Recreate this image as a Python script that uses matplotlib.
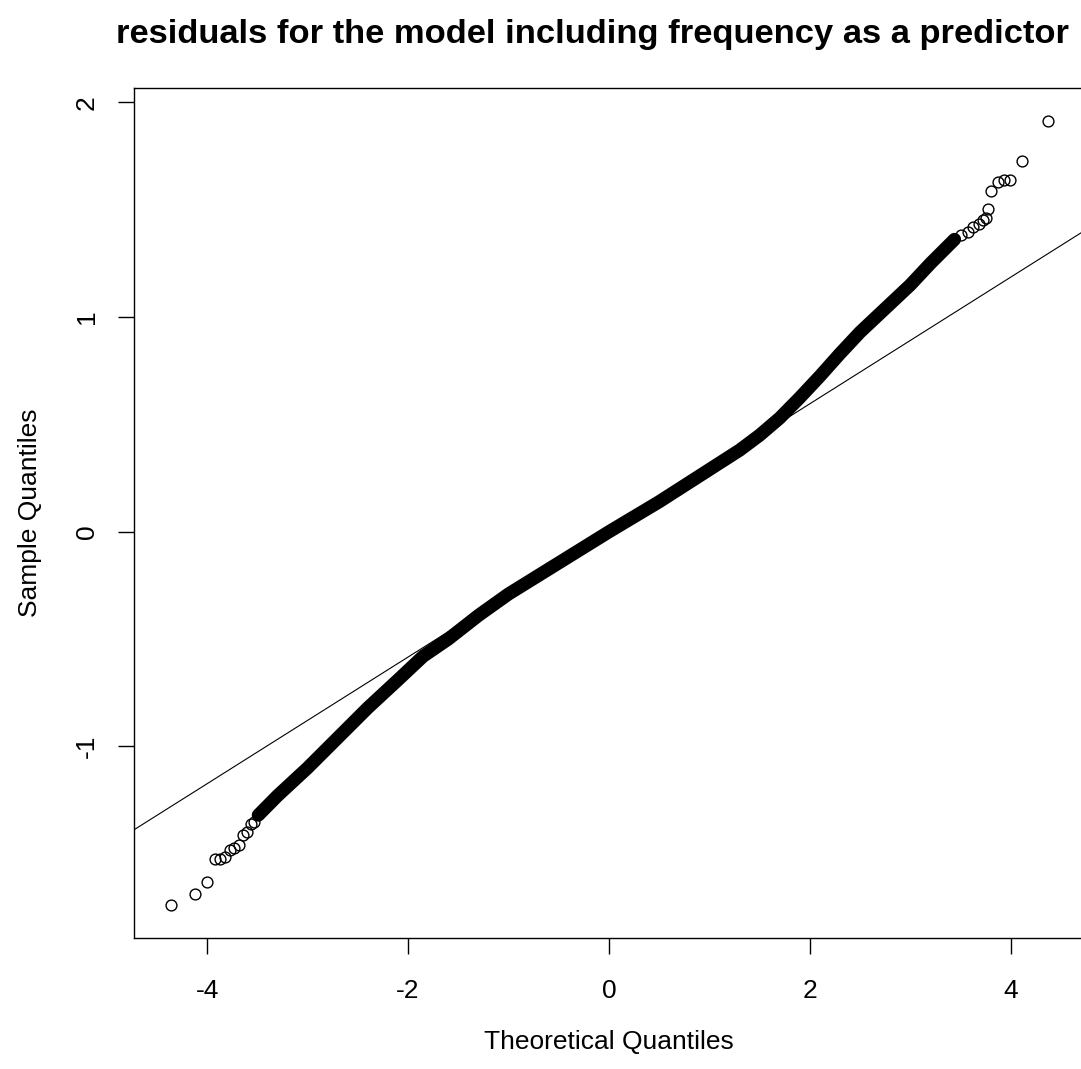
import matplotlib.pyplot as plt

# values
# dense part of the sample (drawn as a thick band)
band_theo = [-3.49, -3.3, -3.0, -2.7, -2.4, -2.1, -1.85, -1.6, -1.3, -1.0, -0.5,
             0.0, 0.5, 1.0, 1.3, 1.5, 1.7, 1.9, 2.1, 2.3, 2.5, 2.75, 3.0, 3.2, 3.44]
band_samp = [-1.32, -1.23, -1.10, -0.96, -0.82, -0.69, -0.58, -0.50, -0.39, -0.29, -0.145,
             0.0, 0.14, 0.29, 0.38, 0.45, 0.53, 0.625, 0.725, 0.83, 0.93, 1.04, 1.15, 1.25, 1.362]

# separate points in the tails
low_theo = [-4.359, -4.124, -4.001, -3.918, -3.876, -3.819, -3.769, -3.730,
            -3.687, -3.643, -3.603, -3.564, -3.531]
low_samp = [-1.739, -1.689, -1.633, -1.524, -1.524, -1.517, -1.483, -1.475,
            -1.459, -1.413, -1.397, -1.361, -1.351]
high_theo = [3.504, 3.570, 3.626, 3.679, 3.719, 3.752, 3.778, 3.808,
             3.868, 3.934, 3.994, 4.116, 4.375]
high_samp = [1.382, 1.397, 1.421, 1.436, 1.452, 1.464, 1.502, 1.587,
             1.630, 1.641, 1.641, 1.728, 1.913]

# qqline
line_icpt = 0.0064
line_slope = 0.295

title = 'residuals for the model including frequency as a predictor'

plt.rcParams['font.family'] = ['Liberation Sans', 'DejaVu Sans']

fig = plt.figure(figsize=(10.81, 10.69), dpi=100)
ax = fig.add_axes([0.1242, 0.1228, 0.8782, 0.7946])

ax.plot(band_theo, band_samp, color='black', lw=9.5, solid_capstyle='round',
        solid_joinstyle='round')
ax.plot(low_theo, low_samp, 'o', ms=7.8, mfc='none', mec='black', mew=1.0)
ax.plot(high_theo, high_samp, 'o', ms=7.8, mfc='none', mec='black', mew=1.0)

ax.axline((0, line_icpt), slope=line_slope, color='black', lw=0.8)

ax.set_xlim(-4.725, 4.725)
ax.set_ylim(-1.891, 2.066)
ax.set_xticks([-4, -2, 0, 2, 4])
ax.set_yticks([-1, 0, 1, 2])
ax.set_xticklabels(['-4', '-2', '0', '2', '4'])
ax.set_yticklabels(['-1', '0', '1', '2'], rotation=90, va='center')
ax.tick_params(length=11.5, width=1, labelsize=19)
ax.tick_params(axis='x', pad=18)
ax.tick_params(axis='y', pad=14)

for s in ax.spines.values():
    s.set_linewidth(1)

ax.set_xlabel('Theoretical Quantiles', fontsize=19, labelpad=20)
ax.set_ylabel('Sample Quantiles', fontsize=19, labelpad=24)

fig.text(0.548, 0.968, title, ha='center', va='center', fontsize=24.8,
         fontweight='bold')

fig.savefig('out.png', dpi=100)
